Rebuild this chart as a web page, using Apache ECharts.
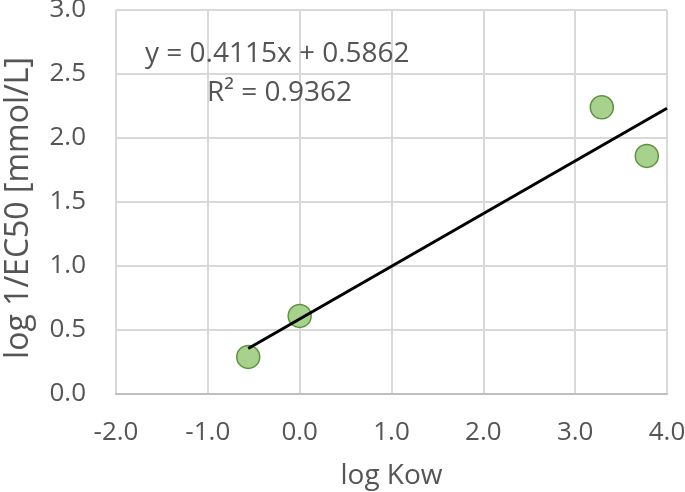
<!DOCTYPE html>
<html>
<head>
<meta charset="utf-8">
<script src="https://cdn.jsdelivr.net/npm/echarts@6/dist/echarts.min.js"></script>
<style>html,body{margin:0;padding:0;background:#fff;}#c{width:685px;height:492px;}</style>
</head>
<body>
<div id="c"></div>
<script>
const logKow = [-0.56, 0.0, 3.29, 3.78];
const logInvEC50 = [0.29, 0.61, 2.24, 1.86];
const trendX = [-0.56, 4.0];
const trendY = [0.356, 2.232];
const equationText = 'y = 0.4115x + 0.5862';
const r2Text = 'R² = 0.9362';
const xTicks = [-2, -1, 0, 1, 2, 3, 4];
const yTicks = [0, 0.5, 1, 1.5, 2, 2.5, 3];

const FONT = 'Open Sans';
const TXT = '#555555';
const chart = echarts.init(document.getElementById('c'));
chart.setOption({
  animation: false,
  backgroundColor: '#fff',
  textStyle: { fontFamily: FONT },
  grid: { left: 116, right: 18, top: 10, bottom: 98, containLabel: false, outerBoundsMode: 'none' },
  xAxis: {
    type: 'value', min: -2, max: 4, interval: 1,
    name: 'log Kow', nameLocation: 'middle', nameGap: 68,
    nameTextStyle: { fontFamily: FONT, fontSize: 28, color: TXT },
    axisLine: { show: true, lineStyle: { color: '#bfbfbf', width: 2 } },
    axisTick: { show: false },
    axisLabel: { fontFamily: FONT, fontSize: 26, color: TXT, margin: 26, formatter: v => v.toFixed(1) },
    splitLine: { show: true, lineStyle: { color: '#d9d9d9', width: 2 } }
  },
  yAxis: {
    type: 'value', min: 0, max: 3, interval: 0.5,
    name: 'log 1/EC50 [mmol/L]', nameLocation: 'middle', nameGap: 81,
    nameTextStyle: { fontFamily: FONT, fontSize: 32, color: TXT, padding: [0, 12, 0, 0] },
    axisLine: { show: false },
    axisTick: { show: false },
    axisLabel: { fontFamily: FONT, fontSize: 26, color: TXT, margin: 30, formatter: v => v.toFixed(1) },
    splitLine: { show: true, lineStyle: { color: '#d9d9d9', width: 2 } }
  },
  series: [
    {
      type: 'scatter',
      data: logKow.map((x, i) => [x, logInvEC50[i]]),
      symbol: 'circle', symbolSize: 23,
      itemStyle: { color: '#a9d18e', borderColor: '#5f9142', borderWidth: 1.5, opacity: 1 },
      z: 2
    },
    {
      type: 'line',
      data: trendX.map((x, i) => [x, trendY[i]]),
      symbol: 'none',
      lineStyle: { color: '#000', width: 3 },
      z: 3
    }
  ],
  graphic: [
    { type: 'text', left: 145, top: 40, z: 10,
      style: { text: equationText, font: '28px ' + FONT, fill: TXT } },
    { type: 'text', left: 207, top: 79, z: 10,
      style: { text: r2Text, font: '28px ' + FONT, fill: TXT } }
  ]
});
</script>
</body>
</html>
